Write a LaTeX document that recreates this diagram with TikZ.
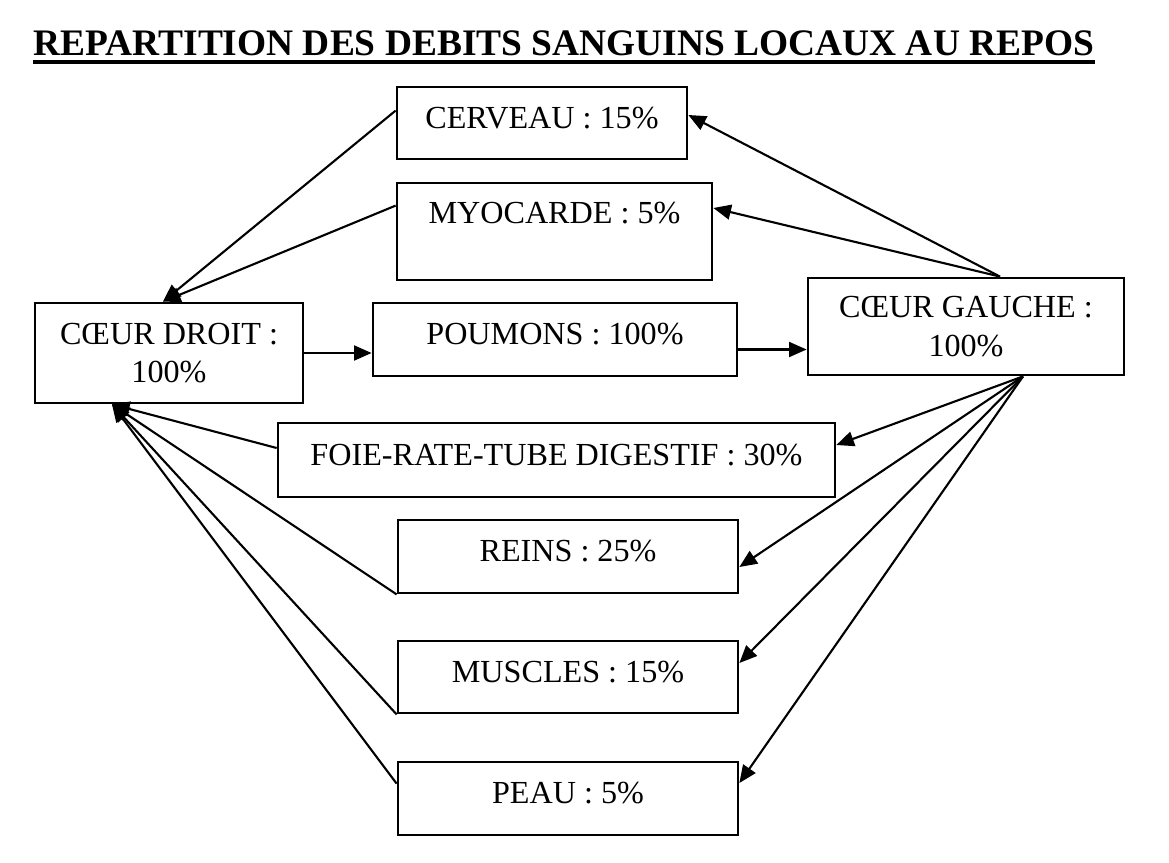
\documentclass[tikz,border=0pt]{standalone}
\usepackage{fontspec}
\setmainfont{Liberation Serif}
\usetikzlibrary{arrows.meta,calc}
\begin{document}
\begin{tikzpicture}[x=0.02cm,y=-0.02cm]
\tikzstyle{every node}+=[inner sep=0pt]
\tikzstyle{boite}=[draw=black, line width=1.6pt, rectangle, align=center, text depth=6pt, font=\fontsize{18.3}{22}\selectfont]
\tikzstyle{fleche}=[black, line width=1.2pt, -{Triangle[length=10pt,width=8.5pt]}]
\useasboundingbox (0,0) rectangle (1169,862);
\node (titre) at (564,43) {\fontsize{21.3}{25}\selectfont\bfseries REPARTITION DES DEBITS SANGUINS LOCAUX AU REPOS};
\draw [black, line width=2.2pt] ($(titre.south west)+(0,6)$) -- ($(titre.south east)+(0,6)$);
\node [boite, minimum width=5.8cm, minimum height=1.44cm] (cerveau) at (542,123) {CERVEAU : 15\%};
\node [boite, minimum width=6.3cm, minimum height=1.94cm, text depth=21pt] (myocarde) at (554.5,231.5) {MYOCARDE : 5\%};
\node [boite, minimum width=5.36cm, minimum height=2cm, text depth=0pt] (droit) at (169,353) {CŒUR DROIT :\\100\%};
\node [boite, minimum width=7.28cm, minimum height=1.46cm] (poumons) at (555,339.5) {POUMONS : 100\%};
\node [boite, minimum width=6.32cm, minimum height=1.94cm, text depth=0pt] (gauche) at (966,326.5) {CŒUR GAUCHE :\\100\%};
\node [boite, minimum width=11.14cm, minimum height=1.48cm] (foie) at (556.5,460) {FOIE-RATE-TUBE DIGESTIF : 30\%};
\node [boite, minimum width=6.8cm, minimum height=1.46cm] (reins) at (568,556.5) {REINS : 25\%};
\node [boite, minimum width=6.8cm, minimum height=1.44cm] (muscles) at (568,677) {MUSCLES : 15\%};
\node [boite, minimum width=6.8cm, minimum height=1.46cm] (peau) at (568,798.5) {PEAU : 5\%};
\coordinate (dtop) at ($(droit.north)+(-6,0)$);
\coordinate (dbot) at ($(droit.south)+(-57,0)$);
\coordinate (gtop) at ($(gauche.north)+(34,0)$);
\coordinate (gbot) at ($(gauche.south)+(57,0)$);
\coordinate (pout) at ($(poumons.east)+(0,10)$);
\draw [fleche] ($(cerveau.north west)+(0,25)$) -- (dtop);
\draw [fleche] ($(myocarde.north west)+(0,24)$) -- (dtop);
\draw [fleche] (droit.east) -- (droit.east -| poumons.west);
\draw [fleche] (pout) -- (pout -| gauche.west);
\draw [fleche] (gtop) -- ($(cerveau.east)+(0,-8)$);
\draw [fleche] (gtop) -- ($(myocarde.east)+(0,-23.5)$);
\draw [fleche] (gbot) -- ($(foie.east)+(0,-15)$);
\draw [fleche] (gbot) -- ($(reins.east)+(0,10.5)$);
\draw [fleche] (gbot) -- ($(muscles.east)+(0,-14)$);
\draw [fleche] (gbot) -- ($(peau.east)+(0,-15.5)$);
\draw [fleche] ($(foie.west)+(0,-12)$) -- (dbot);
\draw [fleche] (reins.south west) -- (dbot);
\draw [fleche] (muscles.south west) -- (dbot);
\draw [fleche] ($(peau.north west)+(0,23)$) -- (dbot);
\end{tikzpicture}
\end{document}
